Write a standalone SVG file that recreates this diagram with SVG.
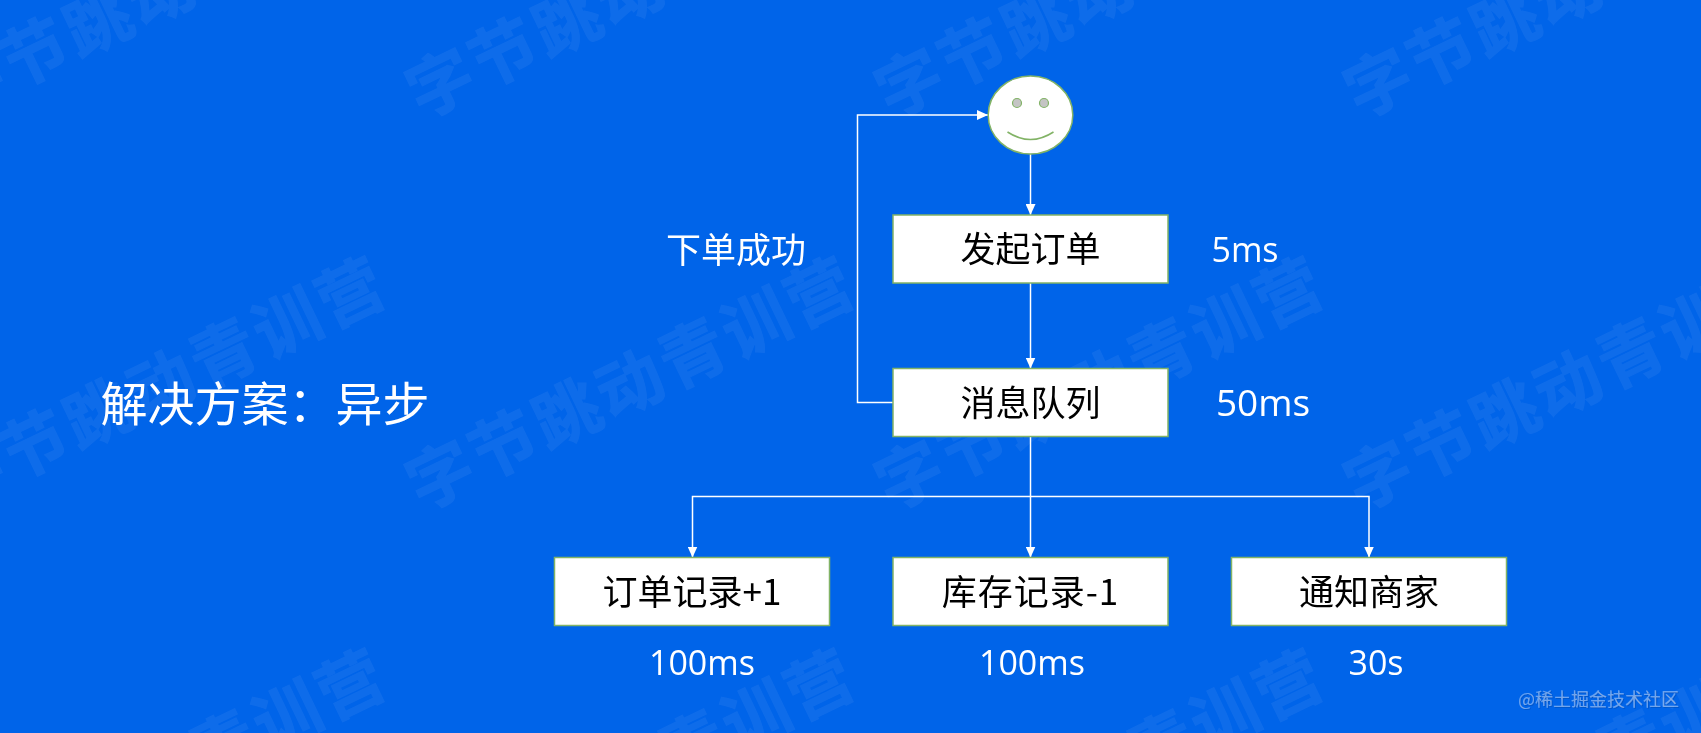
<svg xmlns="http://www.w3.org/2000/svg" width="1701" height="733" viewBox="0 0 1701 733">
<style>
.box{fill:#fff;stroke:#82b366;stroke-width:1.5}
.cn{font-family:"Noto Sans CJK SC","Noto Sans",sans-serif;text-anchor:middle}
.num{font-family:"Open Sans","Noto Sans",sans-serif;text-anchor:middle;fill:#fff;font-size:34px}
.lbl{font-size:35px;fill:#000}
.wt{fill:#fff}
.ln{fill:none;stroke:#fff;stroke-width:1.5}
.wm{font-family:"Noto Sans CJK SC",sans-serif;font-weight:700;font-size:66px;letter-spacing:4px;fill:#fff;stroke:#fff;stroke-width:1}
</style>
<defs>
<marker id="arrow" viewBox="0 0 11 10" refX="11" refY="5" markerWidth="11" markerHeight="10" markerUnits="userSpaceOnUse" orient="auto"><path d="M0 0L11 5L0 10Z" fill="#fff"/></marker>
<text id="mark" class="wm" x="-29" y="24" transform="rotate(-25.7)">字节跳动青训营</text>
<filter id="shadow" x="-5%" y="-20%" width="110%" height="150%"><feDropShadow dx="1" dy="1" stdDeviation="0.6" flood-color="#003a8c" flood-opacity=".8"/></filter>
</defs>
<rect width="1701" height="733" fill="#0064e9"/>
<g id="watermark" opacity=".055">
<use href="#mark" transform="translate(-32,85)"/><use href="#mark" transform="translate(437,85)"/><use href="#mark" transform="translate(906,85)"/><use href="#mark" transform="translate(1375,85)"/>
<use href="#mark" transform="translate(-32,477)"/><use href="#mark" transform="translate(437,477)"/><use href="#mark" transform="translate(906,477)"/><use href="#mark" transform="translate(1375,477)"/>
<use href="#mark" transform="translate(-32,869)"/><use href="#mark" transform="translate(437,869)"/><use href="#mark" transform="translate(906,869)"/><use href="#mark" transform="translate(1375,869)"/>
</g>
<g id="connectors">
<path class="ln" marker-end="url(#arrow)" d="M1030.5 154V215"/>
<path class="ln" marker-end="url(#arrow)" d="M1030.5 283V368.5"/>
<path class="ln" marker-end="url(#arrow)" d="M893 402.5H857.5V115H988"/>
<path class="ln" marker-end="url(#arrow)" d="M1030.5 436V557.5"/>
<path class="ln" marker-end="url(#arrow)" d="M1030.5 496.5H692.5V557.5"/>
<path class="ln" marker-end="url(#arrow)" d="M1030.5 496.5H1369V557.5"/>
</g>
<g id="user">
<ellipse cx="1030.5" cy="115" rx="42.3" ry="39" fill="#fff" stroke="#82b366" stroke-width="1.5"/>
<circle cx="1017" cy="103" r="4.5" fill="#c4c4c4" stroke="#82b366" stroke-width="1.2"/>
<circle cx="1044" cy="103" r="4.5" fill="#c4c4c4" stroke="#82b366" stroke-width="1.2"/>
<path d="M1007.5 132Q1030.5 147 1053.5 132" fill="none" stroke="#82b366" stroke-width="1.5"/>
</g>
<g id="start-order"><rect class="box" x="893" y="215" width="275" height="68"/><text class="cn lbl" x="1030.5" y="262">发起订单</text></g>
<g id="queue"><rect class="box" x="893" y="368.5" width="275" height="68"/><text class="cn lbl" x="1030.5" y="416">消息队列</text></g>
<g id="order-record"><rect class="box" x="554.5" y="557.5" width="275" height="68"/><text class="cn lbl" x="692" y="605">订单记录+1</text></g>
<g id="stock-record"><rect class="box" x="893" y="557.5" width="275" height="68"/><text class="cn lbl" x="1030.5" y="605" letter-spacing="1">库存记录-1</text></g>
<g id="notify"><rect class="box" x="1231.5" y="557.5" width="275" height="68"/><text class="cn lbl" x="1369" y="605">通知商家</text></g>
<g id="labels">
<text class="cn wt" x="736" y="263" font-size="35">下单成功</text>
<text class="cn wt" x="265" y="421" font-size="47">解决方案：异步</text>
<text class="num" x="1245" y="262">5ms</text>
<text class="num" x="1263" y="416" style="font-size:37px">50ms</text>
<text class="num" x="702" y="675">100ms</text>
<text class="num" x="1032" y="675">100ms</text>
<text class="num" x="1376" y="675">30s</text>
</g>
<text id="credit" x="1518" y="706" font-family="'Noto Sans CJK SC',sans-serif" font-size="18" fill="#fff" fill-opacity=".4" filter="url(#shadow)">@稀土掘金技术社区</text>
</svg>
